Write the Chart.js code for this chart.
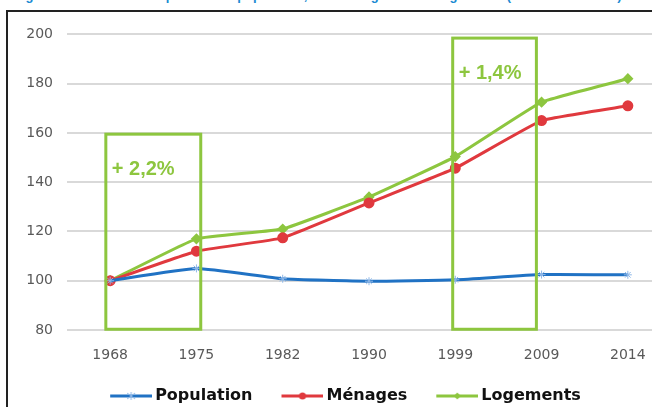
<!DOCTYPE html>
<html>
<head>
<meta charset="utf-8">
<script src="https://cdn.jsdelivr.net/npm/chart.js@4"></script>
<style>
  html, body { margin: 0; padding: 0; background: #fff; overflow: hidden; width: 652px; height: 407px; }
  #title { position: absolute; left: 14px; top: -12px; white-space: nowrap; font: bold 13px "Liberation Sans", Arial, sans-serif; color: #1a8ad2; }
  #frame { position: absolute; left: 6px; top: 10px; width: 700px; height: 420px; border-left: 2px solid #222; border-top: 2px solid #222; }
  #wrap { position: absolute; left: 8px; top: 12px; width: 670px; height: 410px; }
</style>
</head>
<body>
<div id="title">Figure 5 : Évolution comparée de la population, des ménages et des logements (base 100 en 1968)</div>
<div id="frame"></div>
<div id="wrap"><canvas id="chart"></canvas></div>
<script>
// chart data
var years = ['1968', '1975', '1982', '1990', '1999', '2009', '2014'];
var population = [100, 105, 100.8, 99.8, 100.4, 102.5, 102.4];
var menages = [100, 112, 117.4, 131.6, 145.7, 165, 171];
var logements = [100, 117, 121, 134, 150.4, 172.5, 182];
var yTicks = [80, 100, 120, 140, 160, 180, 200];

// highlighted periods (x in category index, y in axis units)
var boxLabels = ['+ 2,2%', '+ 1,4%'];
var boxFrom = [-0.05, 3.97];
var boxTo = [1.05, 4.94];
var boxTop = [159.5, 198.5];

var blue = '#2072c4', red = '#e0393e', green = '#8dc63f';

// little legend icon : line with its marker in the middle (shifted right so the text sits close)
function legendIcon(color, style) {
    var c = document.createElement('canvas');
    c.width = 52; c.height = 10;
    var g = c.getContext('2d');
    var m = 31;
    g.strokeStyle = color; g.fillStyle = color; g.lineWidth = 3;
    g.beginPath(); g.moveTo(10, 5); g.lineTo(52, 5); g.stroke();
    if (style == 'circle') { g.beginPath(); g.arc(m, 5, 3.5, 0, Math.PI * 2); g.fill(); }
    if (style == 'diamond') { g.beginPath(); g.moveTo(m, 1.5); g.lineTo(m + 3.5, 5); g.lineTo(m, 8.5); g.lineTo(m - 3.5, 5); g.closePath(); g.fill(); }
    if (style == 'star') {
        g.lineWidth = 1; g.strokeStyle = '#8fb8e8';
        g.beginPath(); g.moveTo(m, 1); g.lineTo(m, 9); g.moveTo(m - 4, 2); g.lineTo(m + 4, 8); g.moveTo(m + 4, 2); g.lineTo(m - 4, 8); g.stroke();
    }
    return c;
}

var boxPlugin = {
    id: 'boxes',
    afterDatasetsDraw: function(chart) {
        var ctx = chart.ctx, x = chart.scales.x, y = chart.scales.y;
        ctx.save();
        for (var i = 0; i < boxLabels.length; i++) {
            var l = x.getPixelForValue(boxFrom[i]), r = x.getPixelForValue(boxTo[i]);
            var t = y.getPixelForValue(boxTop[i]), b = y.getPixelForValue(80.3);
            ctx.strokeStyle = green; ctx.lineWidth = 3;
            ctx.strokeRect(l, t, r - l, b - t);
            ctx.fillStyle = green;
            ctx.font = 'bold 20px "Liberation Sans Narrow", "Liberation Sans", sans-serif';
            ctx.textBaseline = 'middle';
            ctx.fillText(boxLabels[i], l + 6, t + 35);
        }
        ctx.restore();
    }
};

var ctx = document.getElementById('chart');
var chart = new Chart(ctx, {
    type: 'line',
    data: {
        labels: years,
        datasets: [{
            label: 'Population',
            data: population,
            borderColor: blue,
            backgroundColor: blue,
            borderWidth: 3,
            pointStyle: 'star',
            pointRadius: 4,
            pointBorderWidth: 1,
            pointBorderColor: '#8fb8e8',
            tension: 0.15
        }, {
            label: 'Ménages',
            data: menages,
            borderColor: red,
            backgroundColor: red,
            borderWidth: 3,
            pointStyle: 'circle',
            pointRadius: 4,
            tension: 0.1
        }, {
            label: 'Logements',
            data: logements,
            borderColor: green,
            backgroundColor: green,
            borderWidth: 3,
            pointStyle: 'rectRot',
            pointRadius: 3.5,
            tension: 0.1
        }]
    },
    options: {
        responsive: true,
        maintainAspectRatio: false,
        animation: false,
        layout: { padding: { top: 22, right: 0, bottom: 8, left: 0 } },
        scales: {
            x: {
                offset: true,
                grid: { display: false, drawTicks: false },
                border: { display: false },
                ticks: { color: '#595959', font: { family: 'DejaVu Sans', size: 14 }, padding: 17, maxRotation: 0 },
                afterFit: function(s) { s.height = 34; }
            },
            y: {
                min: 80, max: 200,
                afterBuildTicks: function(s) { s.ticks = yTicks.map(function(v) { return { value: v }; }); },
                grid: { color: '#d9d9d9', lineWidth: 2, drawTicks: false },
                border: { display: false },
                ticks: { color: '#595959', font: { family: 'DejaVu Sans', size: 14 }, padding: 14 },
                afterFit: function(s) { s.width = 59; }
            }
        },
        plugins: {
            tooltip: { enabled: false },
            legend: {
                position: 'bottom',
                labels: {
                    color: '#111',
                    font: { family: 'DejaVu Sans', size: 16, weight: 'bold' },
                    usePointStyle: true,
                    pointStyleWidth: 42,
                    padding: 24,
                    generateLabels: function(ch) {
                        var styles = ['star', 'circle', 'diamond'];
                        return ch.data.datasets.map(function(d, i) {
                            return { text: d.label, pointStyle: legendIcon(d.borderColor, styles[i]), datasetIndex: i, fontColor: '#111', lineWidth: 0, strokeStyle: d.borderColor, fillStyle: d.borderColor };
                        });
                    }
                }
            }
        }
    },
    plugins: [boxPlugin]
});
</script>
</body>
</html>
